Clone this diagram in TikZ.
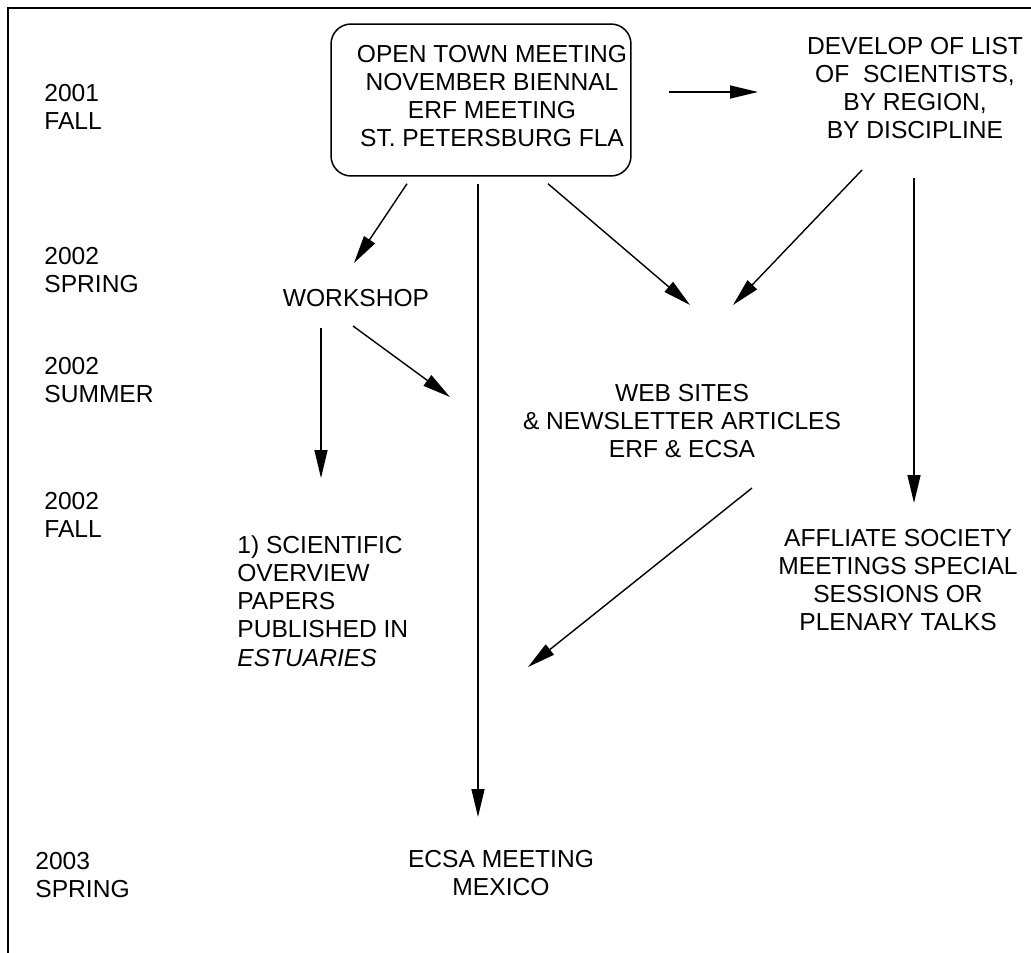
\documentclass[tikz,border=0pt]{standalone}
\usepackage{fontspec}
\setmainfont{Liberation Sans}
\usetikzlibrary{arrows.meta,positioning,calc}

\begin{document}
\begin{tikzpicture}[x=0.02cm, y=-0.02cm,
    lbl/.style={align=center, inner sep=0pt, font=\fontsize{14}{16}\selectfont},
    yearlbl/.style={lbl, align=left, anchor=west},
    townbox/.style={draw, line width=0.85pt, rounded corners=0.4cm, minimum width=6cm, minimum height=3.04cm, inner sep=0pt},
    arr/.style={-{Triangle[length=0.56cm, width=0.26cm]}, line width=0.8pt}
]
    \useasboundingbox (0,0) rectangle (1031,953);

    % Frame
    \draw[line width=1pt] (8,953) -- (8,8) -- (1031,8);

    % Time line
    \begin{scope}[every node/.style={yearlbl}]
        \node (fall01) at (44,107) {2001\\FALL};
        \node (spring02) at (44,270) {2002\\SPRING};
        \node (summer02) at (44,380) {2002\\SUMMER};
        \node (fall02) at (44,515) {2002\\FALL};
        \node (spring03) at (35,875) {2003\\SPRING};
    \end{scope}

    % Events
    \node[townbox] (town) at (481,100) {};
    \node[lbl] (towntext) at (492,96) {OPEN TOWN MEETING\\NOVEMBER BIENNAL\\ERF MEETING\\ST. PETERSBURG FLA};
    \node[lbl] (develop) at (915,88) {DEVELOP OF LIST\\OF\ \ SCIENTISTS,\\BY REGION,\\BY DISCIPLINE};
    \node[lbl] (workshop) at (356,298) {WORKSHOP};
    \node[lbl] (web) at (682,421) {WEB SITES\\\& NEWSLETTER ARTICLES\\ERF \& ECSA};
    \node[lbl, align=left, anchor=west] (papers) at (237,601) {1) SCIENTIFIC\\OVERVIEW\\PAPERS\\PUBLISHED IN\\\textit{ESTUARIES}};
    \node[lbl] (affil) at (898,580) {AFFLIATE SOCIETY\\MEETINGS SPECIAL\\SESSIONS OR\\PLENARY TALKS};
    \node[lbl] (ecsa) at (501,873) {ECSA MEETING\\MEXICO};

    % Free arrow ends
    \coordinate (wsend) at (450,397);
    \coordinate (afend) at (528,667);

    % Connections
    \draw[arr] ($(town.east)+(37,-8)$) -- ($(develop)+(-157,4)$);
    \draw[arr] ($(town.south)+(-74,7)$) -- ($(workshop)+(-2,-35)$);
    \draw[arr] ($(town.south)+(-3,7)$) -- ($(ecsa)+(-23,-56)$);
    \draw[arr] ($(town.south)+(67,7)$) -- ($(web)+(8,-116)$);
    \draw[arr] ($(develop)+(-53,82)$) -- ($(web)+(51,-116)$);
    \draw[arr] ($(develop)+(-1,90)$) -- ($(affil)+(16,-77)$);
    \draw[arr] ($(workshop)+(-35,30)$) -- ($(papers.west)+(84,-123)$);
    \draw[arr] ($(workshop)+(-3,28)$) -- (wsend);
    \draw[arr] ($(affil)+(-146,-92)$) -- (afend);
\end{tikzpicture}
\end{document}
